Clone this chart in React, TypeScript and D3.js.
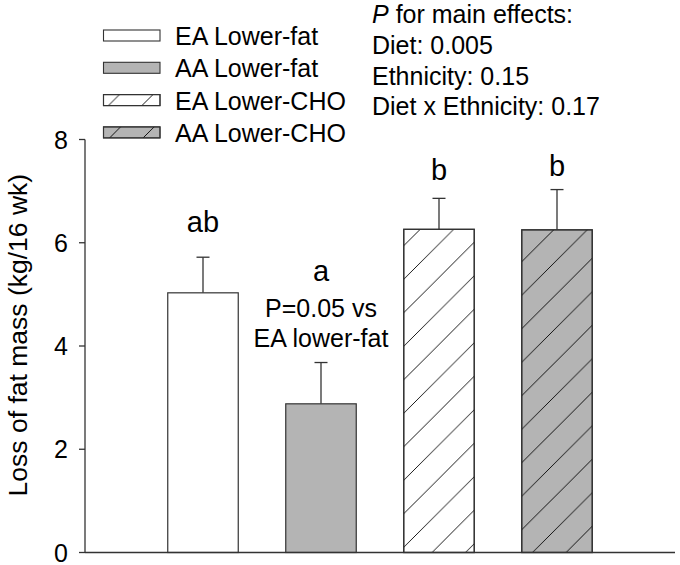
import React from "react";
import * as d3 from "d3";

const categories = ["EA Lower-fat", "AA Lower-fat", "EA Lower-CHO", "AA Lower-CHO"];
const means = [5.03, 2.88, 6.26, 6.25];
const sems = [0.69, 0.8, 0.6, 0.78];
const fills = ["#ffffff", "#b4b4b4", "#ffffff", "#b4b4b4"];
const hatched = [false, false, true, true];
const letterLabels = ["ab", "a", "b", "b"];
const letterLabelY = [6.21, 5.25, 7.22, 7.3];
const noteLines = ["P=0.05 vs", "EA lower-fat"];
const noteY = [4.57, 3.99];
const yTicks = [0, 2, 4, 6, 8];
const statsLines = ["Diet: 0.005", "Ethnicity: 0.15", "Diet x Ethnicity: 0.17"];

const W = 680;
const H = 565;
const FONT = "'Liberation Sans', Arial, Helvetica, sans-serif";

export default function App() {
  const y = d3.scaleLinear().domain([0, 8]).range([552.5, 139.5]);
  const x = d3.scalePoint<string>().domain(categories).range([85, 675]).padding(1);
  const barW = 70.5;
  const axisColor = "#333";

  return (
    <svg
      width={W}
      height={H}
      viewBox={`0 0 ${W} ${H}`}
      style={{ position: "absolute", left: 0, top: 0, background: "#fff" }}
      fontFamily={FONT}
    >
      <defs>
        <pattern id="hatch" patternUnits="userSpaceOnUse" width={33.5} height={33.5} x={13}>
          <line x1={-2} y1={35.5} x2={35.5} y2={-2} stroke="#000" strokeWidth={0.9} />
          <line x1={-2} y1={2} x2={2} y2={-2} stroke="#000" strokeWidth={0.9} />
          <line x1={31.5} y1={35.5} x2={35.5} y2={31.5} stroke="#000" strokeWidth={0.9} />
        </pattern>
      </defs>
      <rect width={W} height={H} fill="#fff" />

      {/* Bars */}
      {categories.map((c, i) => {
        const cx = x(c)!;
        const top = y(means[i]);
        const errTop = y(means[i] + sems[i]);
        return (
          <g key={c}>
            <line x1={cx} x2={cx} y1={top} y2={errTop} stroke="#333" strokeWidth={1.3} />
            <line x1={cx - 6.5} x2={cx + 6.5} y1={errTop} y2={errTop} stroke="#333" strokeWidth={1.3} />
            <rect x={cx - barW / 2} y={top} width={barW} height={y(0) - top} fill={fills[i]} stroke="#333" strokeWidth={1.2} />
            {hatched[i] && (
              <rect x={cx - barW / 2} y={top} width={barW} height={y(0) - top} fill="url(#hatch)" stroke="#333" strokeWidth={1.2} />
            )}
            <text x={cx} y={y(letterLabelY[i])} textAnchor="middle" fontSize={29} fill="#000">
              {letterLabels[i]}
            </text>
          </g>
        );
      })}

      {noteLines.map((t, i) => (
        <text key={t} x={x(categories[1])!} y={y(noteY[i])} textAnchor="middle" fontSize={25} fill="#000">
          {t}
        </text>
      ))}

      {/* Axes */}
      <line x1={85} x2={675} y1={y(0)} y2={y(0)} stroke={axisColor} strokeWidth={1.3} />
      <line x1={85} x2={85} y1={y(0)} y2={y(8)} stroke={axisColor} strokeWidth={1.3} />
      {yTicks.map((t) => (
        <g key={t}>
          <line x1={79} x2={85} y1={y(t)} y2={y(t)} stroke={axisColor} strokeWidth={1.3} />
          <text x={68} y={y(t)} dy="0.36em" textAnchor="end" fontSize={25} fill="#000">
            {t}
          </text>
        </g>
      ))}
      <text
        transform={`translate(27, ${y(4.21)}) rotate(-90)`}
        textAnchor="middle"
        fontSize={26.5}
        fill="#000"
      >
        Loss of fat mass (kg/16 wk)
      </text>

      {/* Legend */}
      {categories.map((c, i) => {
        const ty = 30 + i * 32.3;
        return (
          <g key={"leg" + c}>
            <rect x={103.5} y={ty} width={56.5} height={11} fill={fills[i]} stroke="#333" strokeWidth={1.1} />
            {hatched[i] && (
              <rect x={103.5} y={ty} width={56.5} height={11} fill="url(#hatch)" stroke="#333" strokeWidth={1.1} />
            )}
            <text x={175} y={ty + 15} fontSize={25} fill="#000">
              {c}
            </text>
          </g>
        );
      })}

      {/* Stats */}
      <text x={372} y={22.5} fontSize={25} fill="#000">
        <tspan fontStyle="italic">P</tspan> for main effects:
      </text>
      {statsLines.map((s, i) => (
        <text key={s} x={372} y={54 + i * 30.5} fontSize={25} fill="#000">
          {s}
        </text>
      ))}
    </svg>
  );
}
